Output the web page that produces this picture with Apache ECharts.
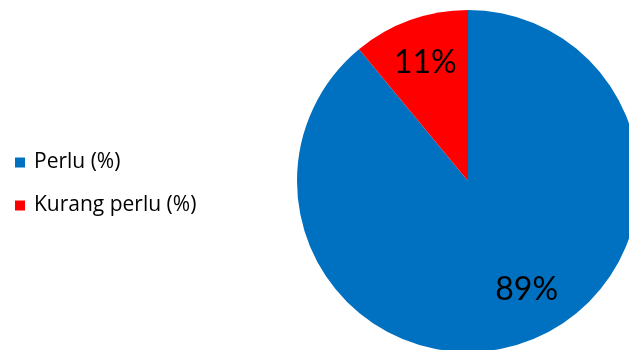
<!DOCTYPE html>
<html><head><meta charset="utf-8">
<script src="https://cdn.jsdelivr.net/npm/echarts@6/dist/echarts.min.js"></script>
<style>html,body{margin:0;padding:0;background:#fff}#c{width:629px;height:350px}</style>
</head><body><div id="c"></div>
<script>
const categories = ["Perlu (%)", "Kurang perlu (%)"];
const values = [89, 11];
const colors = ["#0070C0", "#FF0000"];

const chart = echarts.init(document.getElementById('c'));
const mainData = categories.map((n, i) => ({name: n, value: values[i], itemStyle: {color: colors[i]}}));
const labelData = categories.map((n, i) => ({name: n, value: values[i]}));
chart.setOption({
  animation: false,
  legend: {
    orient: 'vertical', left: 10, top: 147, itemWidth: 10, itemHeight: 10, itemGap: 22,
    icon: 'rect',
    textStyle: {fontFamily: 'Open Sans', fontSize: 21, color: '#000', lineHeight: 21, padding: [0, 0, 0, 4]},
    data: categories.map((n, i) => ({name: n, itemStyle: {color: colors[i]}}))
  },
  series: [
    {
      type: 'pie', center: [468, 181], radius: [0, 171], startAngle: 90, clockwise: true,
      data: mainData, label: {show: false}, labelLine: {show: false},
      itemStyle: {borderWidth: 0}, silent: true
    },
    {
      type: 'pie', center: [468, 181], radius: [0, 246], startAngle: 90, clockwise: true,
      data: labelData, silent: true, legendHoverLink: false,
      itemStyle: {color: 'rgba(0,0,0,0)', borderWidth: 0},
      label: {show: true, position: 'inside', formatter: p => p.value + '%',
        fontFamily: 'Lato', fontSize: 32, color: '#000'},
      labelLine: {show: false},
      labelLayout: p => p.dataIndex === 0 ? {dx: 16, dy: -10} : {}
    }
  ]
});
</script></body></html>
